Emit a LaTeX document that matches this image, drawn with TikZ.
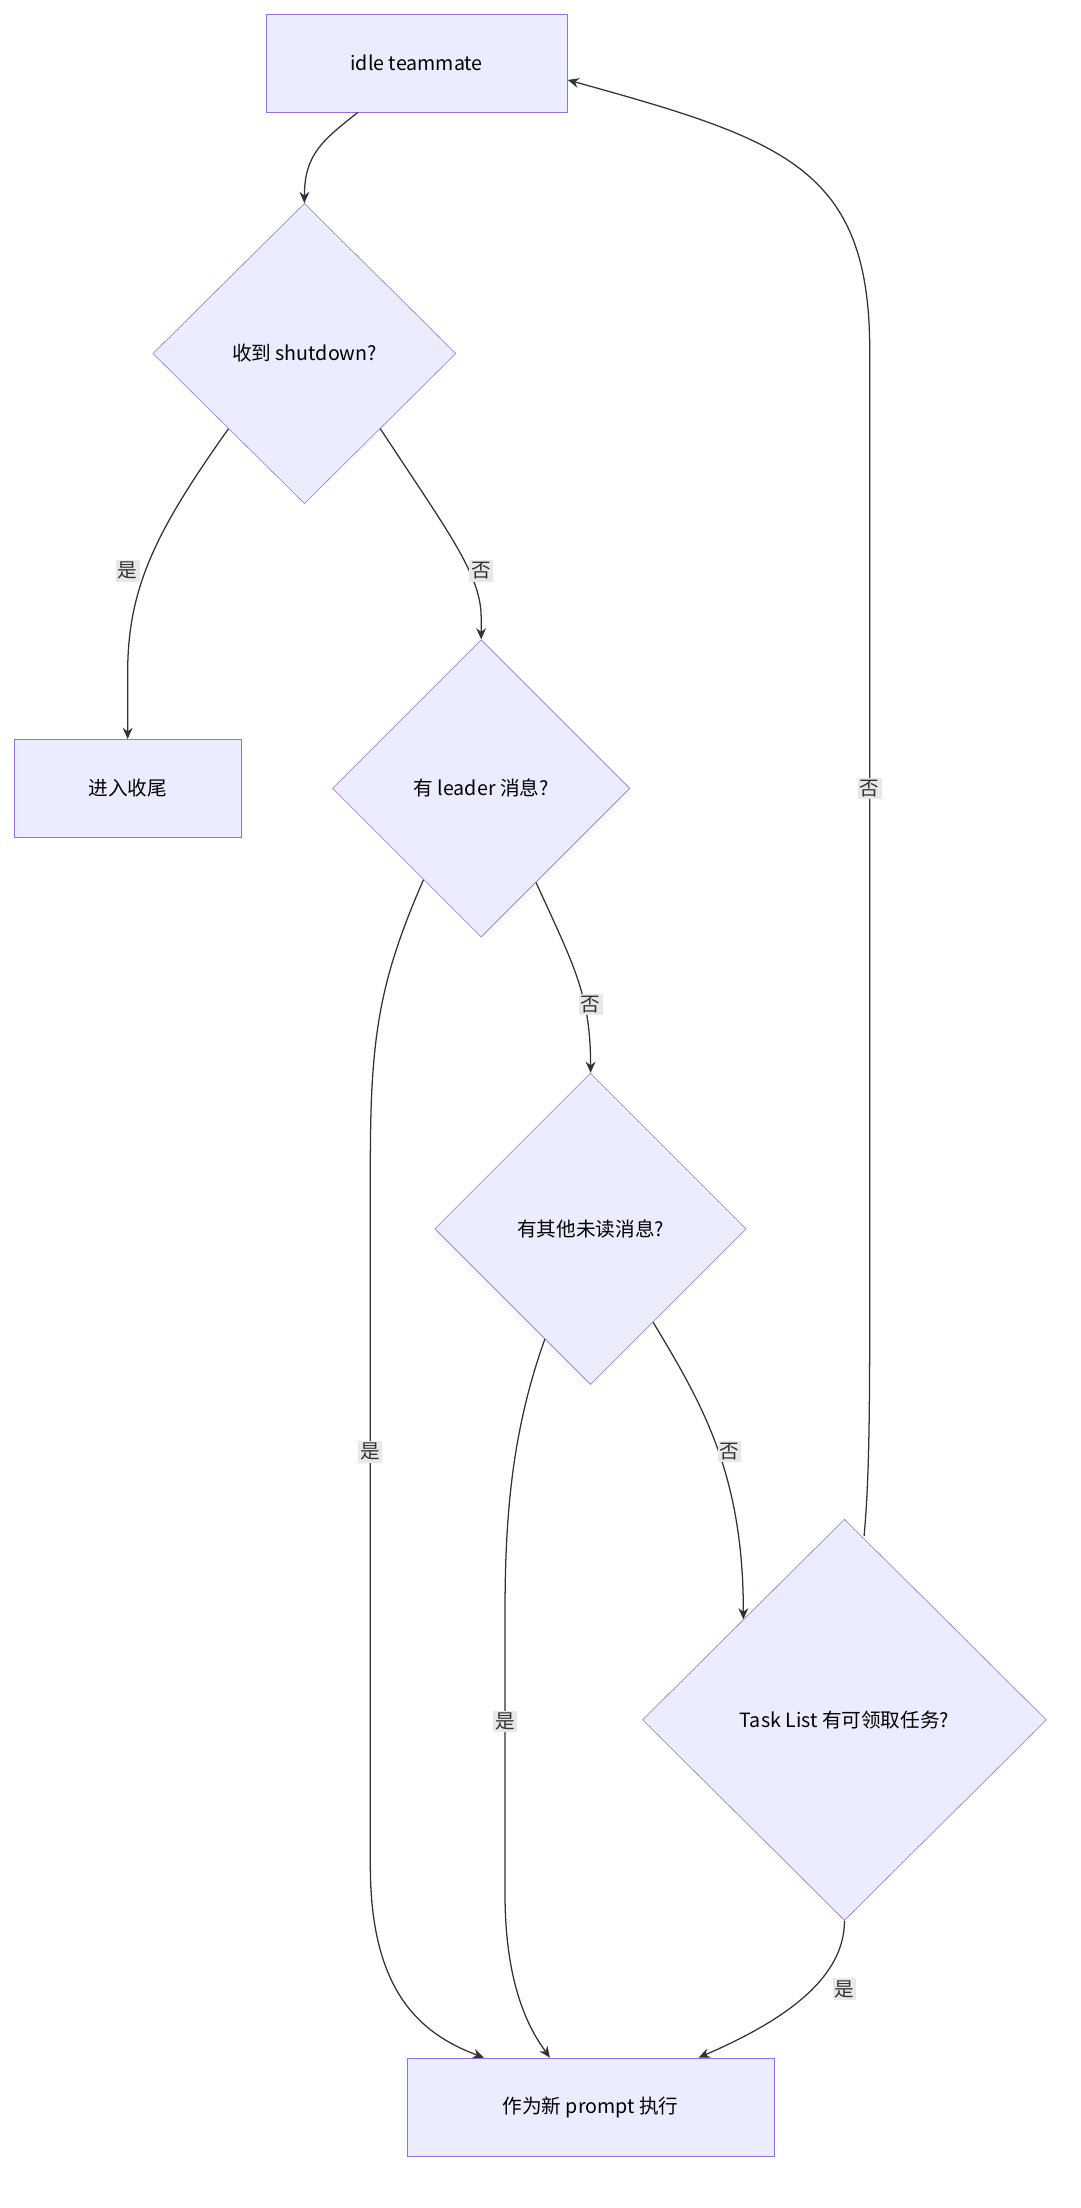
\documentclass[tikz,border=0pt]{standalone}
\usepackage{fontspec}
\setmainfont{Noto Sans CJK SC}
\usetikzlibrary{shapes.geometric,arrows.meta}
\definecolor{boxfill}{HTML}{ECECFF}
\definecolor{boxline}{HTML}{9370DB}
\definecolor{edgeline}{HTML}{333333}
\definecolor{lblfill}{HTML}{E8E8E8}
\begin{document}
\begin{tikzpicture}[x=1pt,y=-1pt,font=\fontsize{14pt}{16pt}\selectfont,
  stepbox/.style={draw=boxline,fill=boxfill,rectangle,inner sep=0pt},
  check/.style={draw=boxline,fill=boxfill,diamond,inner sep=0pt,aspect=1},
  flow/.style={draw=edgeline,line width=0.9pt,-{Stealth[length=8pt,width=7pt]}},
  lbl/.style={fill=lblfill,inner sep=1.5pt,text=edgeline}]
\useasboundingbox (0,0) rectangle (770,1574);
% nodes
\node[stepbox,minimum width=215pt,minimum height=70pt] (idle) at (297,45) {idle teammate};
\node[check,minimum width=216pt,minimum height=214pt] (shut) at (217,252) {收到 shutdown?};
\node[stepbox,minimum width=162pt,minimum height=70pt] (wrap) at (91,562) {进入收尾};
\node[check,minimum width=212pt,minimum height=212pt] (lead) at (343,562) {有 leader 消息?};
\node[check,minimum width=222pt,minimum height=222pt] (other) at (421,876) {有其他未读消息?};
\node[check,minimum width=288pt,minimum height=286pt] (task) at (602,1226) {Task List 有可领取任务?};
\node[stepbox,minimum width=262pt,minimum height=70pt] (run) at (421,1502) {作为新 prompt 执行};
% connectors
\draw[flow] (idle.south) ++(-42,0) .. controls (230,100) and (217,110) .. (shut.north);
\draw[flow] (shut.south west) .. controls (110,380) and (91,420) .. (91,480) -- (wrap.north);
\draw[flow] (shut.south east) .. controls (320,380) and (343,410) .. (343,440) -- (lead.north);
\draw[flow] (lead.south west) ++(12,12) .. controls (270,700) and (264,740) .. (264,830) -- (264,1330) .. controls (264,1420) and (300,1450) .. ([xshift=-76pt]run.north);
\draw[flow] (lead.south east) ++(-14,14) .. controls (410,690) and (421,710) .. (other.north);
\draw[flow] (other.south west) ++(23,23) .. controls (365,1020) and (360,1080) .. (360,1150) -- (360,1350) .. controls (360,1420) and (380,1450) .. ([xshift=-29pt]run.north);
\draw[flow] (other.south east) ++(-11,11) .. controls (500,1000) and (530,1050) .. (task.north west);
\draw[flow] (task.south) .. controls (602,1410) and (560,1440) .. ([xshift=77pt]run.north);
\draw[flow] (task.north) ++(14,12) .. controls (620,1050) and (620,1000) .. (620,900) -- (620,250) .. controls (620,120) and (560,100) .. ([yshift=-12pt]idle.east);
% edge labels
\node[lbl] (l1) at (91,407) {是};
\node[lbl] (l2) at (343,407) {否};
\node[lbl] (l3) at (264,1035) {是};
\node[lbl] (l4) at (421,716) {否};
\node[lbl] (l5) at (360,1227) {是};
\node[lbl] (l6) at (520,1035) {否};
\node[lbl] (l7) at (602,1418) {是};
\node[lbl] (l8) at (620,562) {否};
\end{tikzpicture}
\end{document}
